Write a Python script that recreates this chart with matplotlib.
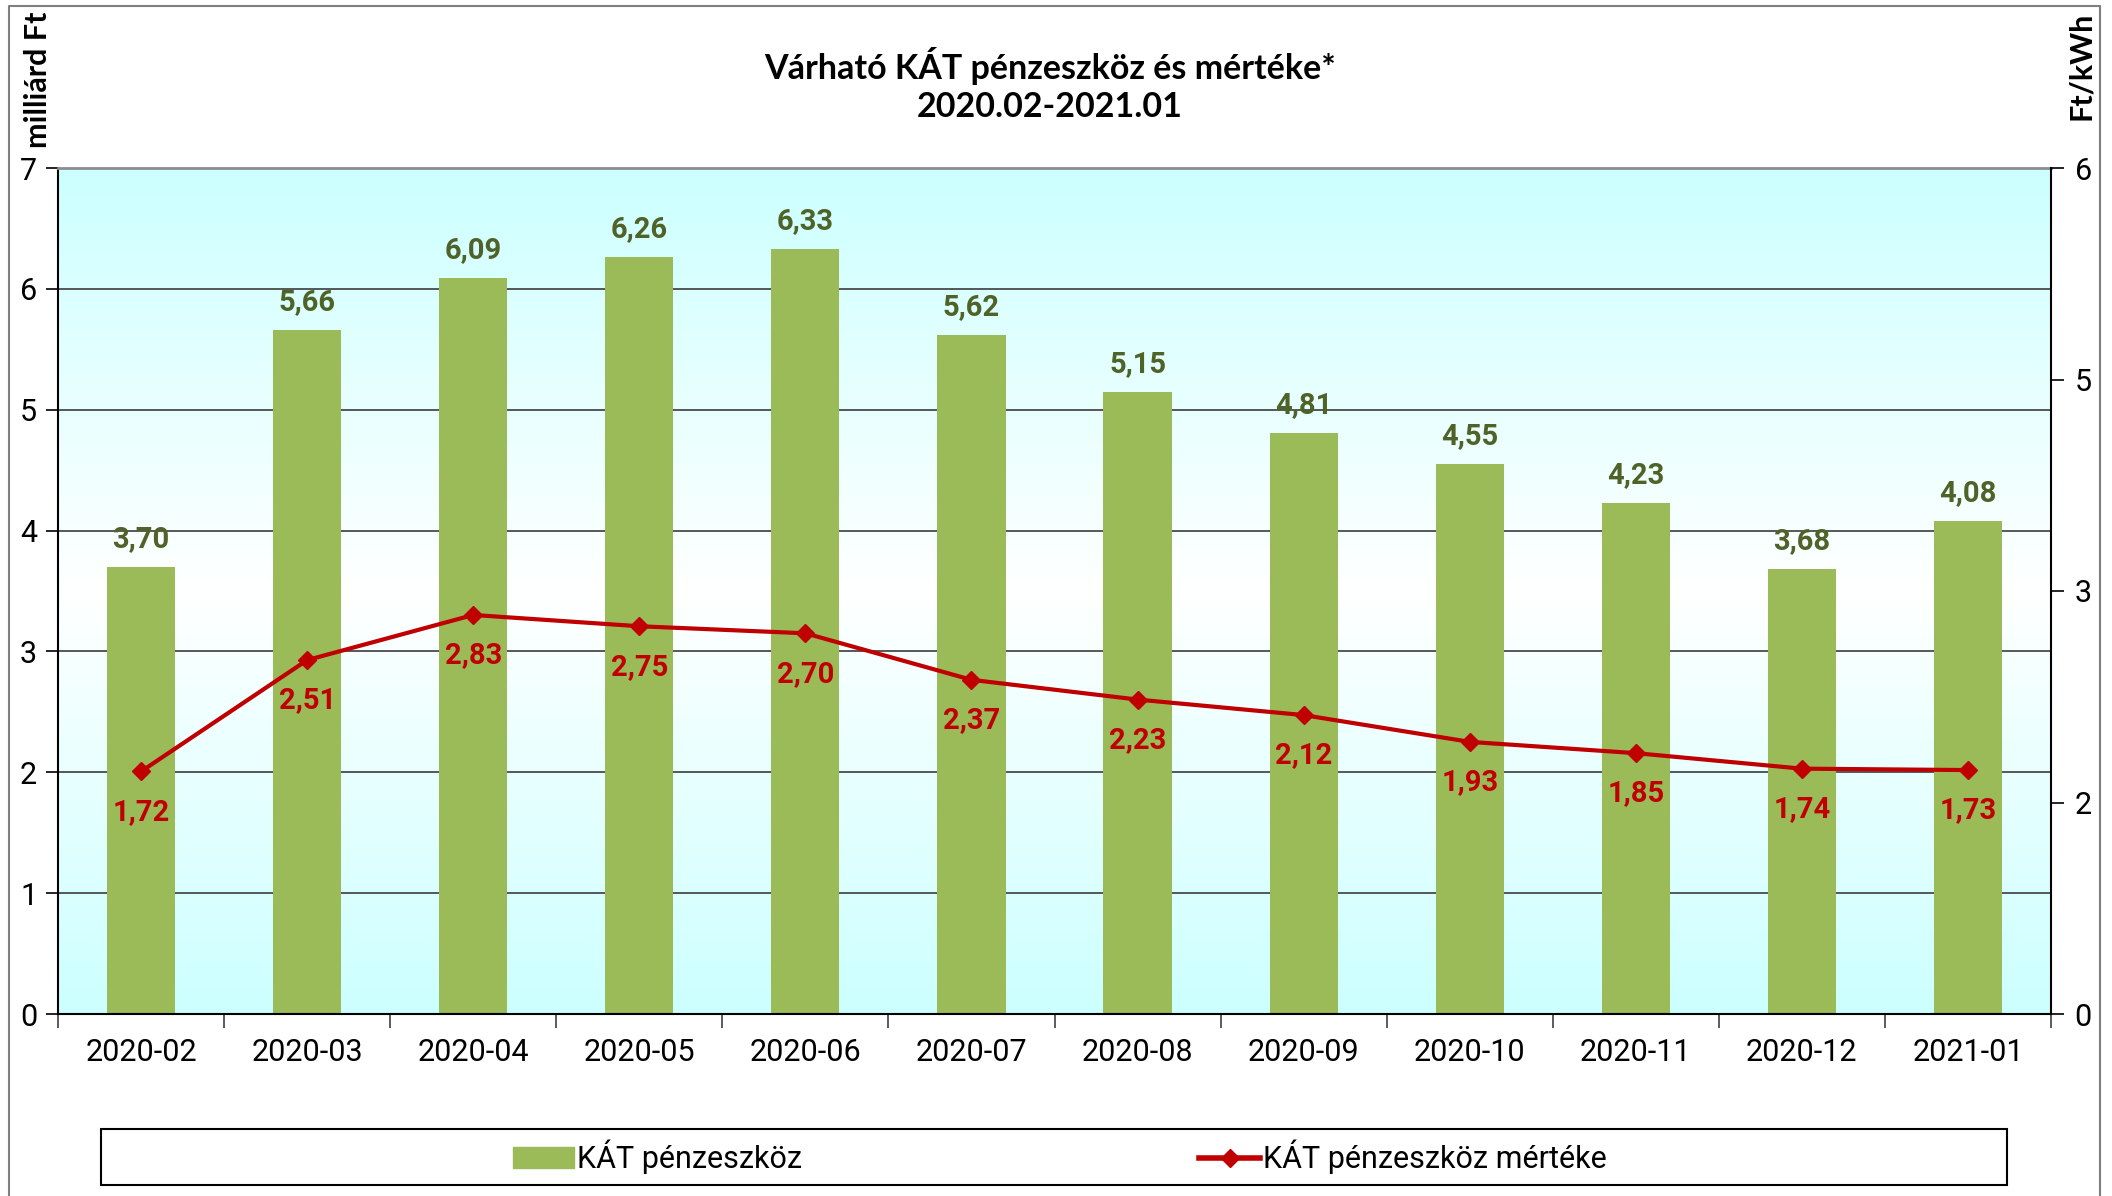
import numpy as np
import matplotlib
matplotlib.use("Agg")
import matplotlib.pyplot as plt
from matplotlib.colors import LinearSegmentedColormap
from matplotlib.patches import Rectangle
from matplotlib.lines import Line2D

months = ["2020-02", "2020-03", "2020-04", "2020-05", "2020-06", "2020-07",
          "2020-08", "2020-09", "2020-10", "2020-11", "2020-12", "2021-01"]
funds = [3.70, 5.66, 6.09, 6.26, 6.33, 5.62, 5.15, 4.81, 4.55, 4.23, 3.68, 4.08]
rate = [1.72, 2.51, 2.83, 2.75, 2.70, 2.37, 2.23, 2.12, 1.93, 1.85, 1.74, 1.73]
left_ticks = [0, 1, 2, 3, 4, 5, 6, 7]
right_ticks = [0, 1.5, 3, 4.5, 6]
right_labels = ["0", "2", "3", "5", "6"]

title = "Várható KÁT pénzeszköz és mértéke*\n2020.02-2021.01"
bar_name = "KÁT pénzeszköz"
line_name = "KÁT pénzeszköz mértéke"

bar_col = "#9BBB59"
bar_lab_col = "#4F6228"
line_col = "#C00000"

tick_font = ["Roboto", "DejaVu Sans"]
lab_font = ["Roboto", "DejaVu Sans"]
bold_font = ["Lato", "DejaVu Sans"]

def fmt(v):
    return f"{v:.2f}".replace(".", ",")

fig = plt.figure(figsize=(21.12, 11.96), dpi=100)
ax = fig.add_axes([58 / 2112, 1 - 1014 / 1196, (2051 - 58) / 2112, (1014 - 168) / 1196])

# background gradient cyan - white - cyan
cmap = LinearSegmentedColormap.from_list("bg", ["#CCFFFF", "#FFFFFF", "#CCFFFF"])
grad = np.linspace(0, 1, 256).reshape(-1, 1)
ax.imshow(grad, cmap=cmap, extent=[0, 1, 0, 1], transform=ax.transAxes,
          aspect="auto", zorder=0.1)

x = np.arange(len(months))
ax.bar(x, funds, width=0.41, color=bar_col, zorder=2)
for xi, v in zip(x, funds):
    ax.annotate(fmt(v), (xi, v), xytext=(0, 10), textcoords="offset points",
                ha="center", va="bottom", fontsize=21, fontweight="bold",
                color=bar_lab_col, family=lab_font, zorder=5)

ax.set_xlim(-0.5, len(months) - 0.5)
ax.set_ylim(0, 7)
ax.set_yticks(left_ticks)
ax.set_axisbelow(True)
ax.yaxis.grid(True, color="#4a4a4a", linewidth=1.3)
ax.set_xticks(x)
ax.set_xticklabels(months, family=tick_font, fontsize=22)
ax.set_xticks(np.arange(-0.5, len(months)), minor=True)
ax.tick_params(axis="x", which="major", length=0, pad=17)
ax.tick_params(axis="x", which="minor", length=10, width=1.2, color="#404040")
ax.tick_params(axis="y", length=9, width=1.2, pad=6, labelsize=22)
for t in ax.get_yticklabels():
    t.set_family(tick_font)
ax.spines["top"].set_color("#8c8c8c")
ax.spines["top"].set_linewidth(2)
ax.spines["left"].set_linewidth(1.5)
ax.spines["bottom"].set_linewidth(1.5)
ax.spines["right"].set_visible(False)

ax2 = ax.twinx()
ax2.plot(x, rate, color=line_col, linewidth=3, marker="D", markersize=9, zorder=4)
for xi, v in zip(x, rate):
    ax2.annotate(fmt(v), (xi, v), xytext=(0, -19), textcoords="offset points",
                 ha="center", va="top", fontsize=21, fontweight="bold",
                 color=line_col, family=lab_font, zorder=5)
ax2.set_ylim(0, 6)
ax2.set_yticks(right_ticks)
ax2.set_yticklabels(right_labels, family=tick_font, fontsize=22)
ax2.tick_params(axis="y", length=9, width=1.2, pad=8)
ax2.spines["right"].set_linewidth(1.5)
for s in ["top", "left", "bottom"]:
    ax2.spines[s].set_visible(False)

fig.text(0.497, 1 - 85 / 1196, title, ha="center", va="center", fontsize=24.5,
         fontweight="bold", family=bold_font, linespacing=1.25)
fig.text(38 / 2112, 1 - 12 / 1196, "milliárd Ft", rotation=90, ha="center",
         va="top", fontsize=22, fontweight="bold", family=bold_font)
fig.text(2081 / 2112, 1 - 12 / 1196, "Ft/kWh", rotation=90, ha="center",
         va="top", fontsize=22, fontweight="bold", family=bold_font)

# legend box
fig.patches.append(Rectangle((101 / 2112, 1 - 1185 / 1196), (2007 - 101) / 2112,
                             (1185 - 1129) / 1196, transform=fig.transFigure,
                             facecolor="white", edgecolor="black", linewidth=1.5))
handles = [Rectangle((0, 0), 1, 1, color=bar_col),
           Line2D([], [], color=line_col, linewidth=4, marker="D", markersize=9)]
fig.legend(handles, [bar_name, line_name], loc="center",
           bbox_to_anchor=(1060 / 2112, 1 - 1157 / 1196), ncol=2, frameon=False,
           prop={"family": tick_font, "size": 22}, columnspacing=13,
           handlelength=2.0, handletextpad=0.1)

# outer chart border
fig.add_artist(Line2D([9 / 2112, 9 / 2112, 2100 / 2112, 2100 / 2112],
                      [0, 1 - 6 / 1196, 1 - 6 / 1196, 0],
                      transform=fig.transFigure, color="#7f7f7f", linewidth=1.5))

fig.savefig("out.png", dpi=100)
